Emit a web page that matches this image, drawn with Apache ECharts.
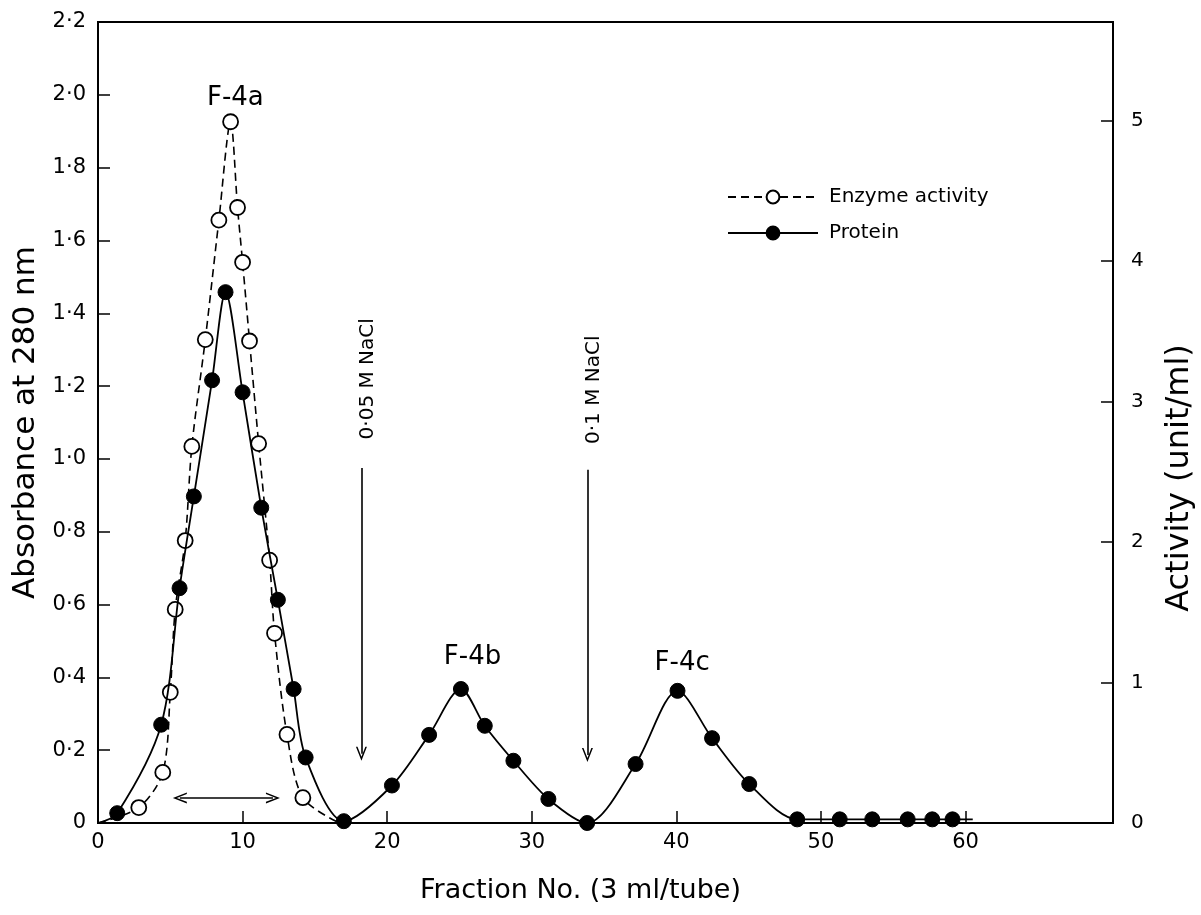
<!DOCTYPE html>
<html>
<head>
<meta charset="utf-8">
<script src="https://cdn.jsdelivr.net/npm/echarts@6/dist/echarts.min.js"></script>
<style>
html,body{margin:0;padding:0;background:#fff;}
#chart{width:1201px;height:915px;}
</style>
</head>
<body>
<div id="chart"></div>
<script>
// ---- Data ----
// Protein (absorbance at 280 nm); first and last entries are the curve's end points (no marker)
const proteinFraction = [0, 1.33, 4.37, 5.64, 6.63, 7.89, 8.82, 10.0, 11.29, 12.44, 13.53, 14.36, 17.0, 20.33, 22.9, 25.1, 26.75, 28.73, 31.15, 33.83, 37.18, 40.08, 42.47, 45.04, 48.36, 51.3, 53.55, 56.0, 57.7, 59.1, 60.5];
const proteinAbs      = [0, 0.027, 0.27, 0.645, 0.897, 1.216, 1.458, 1.183, 0.866, 0.613, 0.368, 0.18, 0.005, 0.103, 0.242, 0.368, 0.267, 0.171, 0.066, 0.0, 0.162, 0.363, 0.233, 0.107, 0.01, 0.01, 0.01, 0.01, 0.01, 0.01, 0.01];
// Enzyme activity (unit/ml, right axis); first and last entries are curve end points (no marker)
const enzymeFraction  = [0, 2.82, 4.48, 5.0, 5.34, 6.03, 6.49, 7.42, 8.36, 9.17, 9.65, 10.0, 10.48, 11.11, 11.87, 12.21, 13.07, 14.17, 16.7];
const enzymeActivity  = [0, 0.11, 0.36, 0.93, 1.52, 2.01, 2.68, 3.44, 4.29, 4.99, 4.38, 3.99, 3.43, 2.70, 1.87, 1.35, 0.63, 0.18, 0];

// Axis ticks and labels
const xTicks = [0, 10, 20, 30, 40, 50, 60];
const yLeftTicks = [0, 0.2, 0.4, 0.6, 0.8, 1.0, 1.2, 1.4, 1.6, 1.8, 2.0, 2.2];
const yLeftLabels = ['0', '0·2', '0·4', '0·6', '0·8', '1·0', '1·2', '1·4', '1·6', '1·8', '2·0', '2·2'];
const yRightTicks = [0, 1, 2, 3, 4, 5];

// Annotations: text, fraction, absorbance anchor
const peakLabels = ['F-4a', 'F-4b', 'F-4c'];
const peakFraction = [9.5, 25.9, 40.4];
const peakAbs = [1.99, 0.455, 0.44];
const saltLabels = ['0·05 M NaCl', '0·1 M NaCl'];
const saltFraction = [18.67, 34.3];
const saltLabelAbs = [1.22, 1.19];
const saltArrowTop = [0.975, 0.97];
const saltArrowTip = [0.19, 0.187];
const poolRange = [5.66, 12.1];
const poolAbs = 0.069;

const FONT = 'DejaVu Sans';

function lineData(xs, ys) {
  return xs.map((x, i) => {
    const item = { value: [x, ys[i]] };
    if (i === 0 || i === xs.length - 1) item.symbol = 'none';
    return item;
  });
}

const annData = [];
peakLabels.forEach((t, i) => annData.push({ name: t, value: [peakFraction[i], peakAbs[i]], label: { fontSize: 26, color: '#000' } }));
saltLabels.forEach((t, i) => annData.push({ name: t, value: [saltFraction[i], saltLabelAbs[i]], label: { rotate: 90, fontSize: 20, color: '#000' } }));

const arrowHead = 'path://M0,14L6,0L12,14L10.3,14L6,4L1.7,14Z';
const markLines = [];
saltFraction.forEach((f, i) => {
  const fx = saltFraction[i] - 0.45;
  markLines.push([{ coord: [fx, saltArrowTop[i]], symbol: 'none' }, { coord: [fx, saltArrowTip[i]], symbol: arrowHead }]);
});
markLines.push([{ coord: [poolRange[0], poolAbs], symbol: arrowHead }, { coord: [poolRange[1], poolAbs], symbol: arrowHead }]);

const chart = echarts.init(document.getElementById('chart'), null, { renderer: 'canvas' });
chart.setOption({
  backgroundColor: '#ffffff',
  animation: false,
  textStyle: { fontFamily: FONT, color: '#000' },
  grid: { left: 98, right: 88, top: 22, bottom: 92, show: true, borderColor: '#000', borderWidth: 2, backgroundColor: 'transparent' },
  legend: {
    data: ['Enzyme activity', 'Protein'],
    orient: 'vertical', left: 722, top: 182,
    itemWidth: 90, itemHeight: 16, itemGap: 16,
    textStyle: { fontFamily: FONT, fontSize: 20, color: '#000', padding: [0, 0, 0, 6] },
    selectedMode: false
  },
  xAxis: {
    type: 'value', min: 0, max: 70.2,
    name: 'Fraction No. (3 ml/tube)', nameLocation: 'middle', nameGap: 54,
    nameTextStyle: { fontFamily: FONT, fontSize: 27, color: '#000', padding: [0, 50, 0, 0] },
    axisLine: { show: true, lineStyle: { color: '#000', width: 2 } },
    axisTick: { show: true, inside: true, length: 12, lineStyle: { color: '#000', width: 1.5 }, customValues: xTicks },
    axisLabel: { color: '#000', fontSize: 21, fontFamily: FONT, margin: 9, customValues: xTicks },
    splitLine: { show: false }
  },
  yAxis: [{
    type: 'value', min: 0, max: 2.2, position: 'left',
    name: 'Absorbance at 280 nm', nameLocation: 'middle', nameGap: 55,
    nameTextStyle: { fontFamily: FONT, fontSize: 31, color: '#000' },
    axisLine: { show: true, lineStyle: { color: '#000', width: 2 } },
    axisTick: { show: true, inside: true, length: 12, lineStyle: { color: '#000', width: 1.5 }, customValues: yLeftTicks },
    axisLabel: { color: '#000', fontSize: 21, fontFamily: FONT, margin: 12, customValues: yLeftTicks,
      formatter: v => { const k = yLeftTicks.findIndex(t => Math.abs(t - v) < 1e-6); return k >= 0 ? yLeftLabels[k] : ''; } },
    splitLine: { show: false }
  }, {
    type: 'value', min: 0, max: 5.7, position: 'right',
    axisLine: { show: true, lineStyle: { color: '#000', width: 2 } },
    axisTick: { show: true, inside: true, length: 12, lineStyle: { color: '#000', width: 1.5 }, customValues: yRightTicks },
    axisLabel: { color: '#000', fontSize: 20, fontFamily: FONT, margin: 18, customValues: yRightTicks },
    splitLine: { show: false }
  }],
  graphic: [{
    type: 'text', x: 1180, y: 478, rotation: Math.PI / 2,
    style: { text: 'Activity (unit/ml)', font: '32px "DejaVu Sans"', fill: '#000', align: 'center', verticalAlign: 'middle' }
  }],
  series: [{
    name: 'Enzyme activity', type: 'line', yAxisIndex: 1,
    data: lineData(enzymeFraction, enzymeActivity),
    smooth: 0.3,
    symbol: 'circle', symbolSize: 15,
    lineStyle: { color: '#000', width: 1.6, type: [8, 5] },
    itemStyle: { color: '#fff', borderColor: '#000', borderWidth: 1.8 },
    z: 3
  }, {
    name: 'Protein', type: 'line', yAxisIndex: 0,
    data: lineData(proteinFraction, proteinAbs),
    smooth: 0.3,
    symbol: 'circle', symbolSize: 15,
    lineStyle: { color: '#000', width: 1.8 },
    itemStyle: { color: '#000', borderColor: '#000', borderWidth: 1 },
    z: 4
  }, {
    name: 'annotations', type: 'scatter', yAxisIndex: 0, silent: true,
    symbolSize: 0, data: annData,
    itemStyle: { opacity: 1, color: '#000' },
    label: { show: true, position: 'inside', formatter: p => p.name, color: '#000', opacity: 1, fontFamily: FONT, textBorderWidth: 0 },
    markLine: {
      silent: true, symbolSize: [11, 14],
      label: { show: false },
      lineStyle: { color: '#000', width: 1.6, type: 'solid' },
      emphasis: { disabled: true },
      data: markLines
    }
  }]
});
</script>
</body>
</html>
